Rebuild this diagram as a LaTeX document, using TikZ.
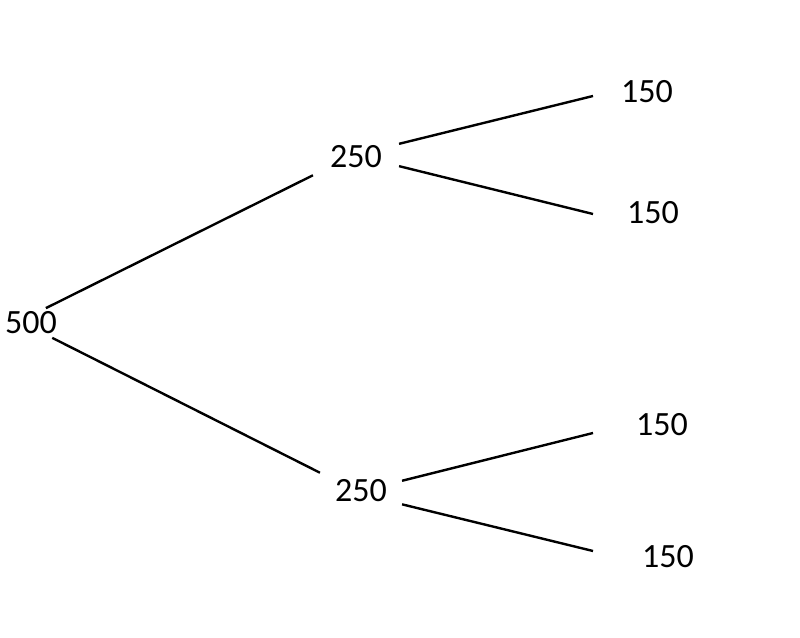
\documentclass[tikz,border=0pt]{standalone}
\usepackage{fontspec}
\setmainfont{Carlito}
\usetikzlibrary{positioning}

\begin{document}
\begin{tikzpicture}[x=1pt, y=1pt,
  num/.style={font=\fontsize{34}{40}\selectfont, inner xsep=2pt, inner ysep=3.5pt},
  mid/.style={num, inner xsep=17pt, inner ysep=9pt},
  branch/.style={line width=2.4pt, black}] % 1pt = 1 pixel

\useasboundingbox (0,0) rectangle (800,637);

\node[num] (n500) at (31,314) {500};
\node[mid] (m1) at (356,480) {250};
\node[mid, inner xsep=15pt] (m2) at (361,146) {250};
\node[num] (l1) at (647,545) {150};
\node[num] (l2) at (653,424) {150};
\node[num] (l3) at (662,212) {150};
\node[num] (l4) at (668,80) {150};

\coordinate (e1) at (593,541);
\coordinate (e2) at (593,423);
\coordinate (e3) at (593,204);
\coordinate (e4) at (593,86);

\draw[branch] (n500.45) -- (m1.203);
\draw[branch] (n500.-35) -- (m2.156);
\draw[branch] (m1.17) -- (e1);
\draw[branch] (m1.-12) -- (e2);
\draw[branch] (m2.14) -- (e3);
\draw[branch] (m2.-18) -- (e4);

\end{tikzpicture}
\end{document}
